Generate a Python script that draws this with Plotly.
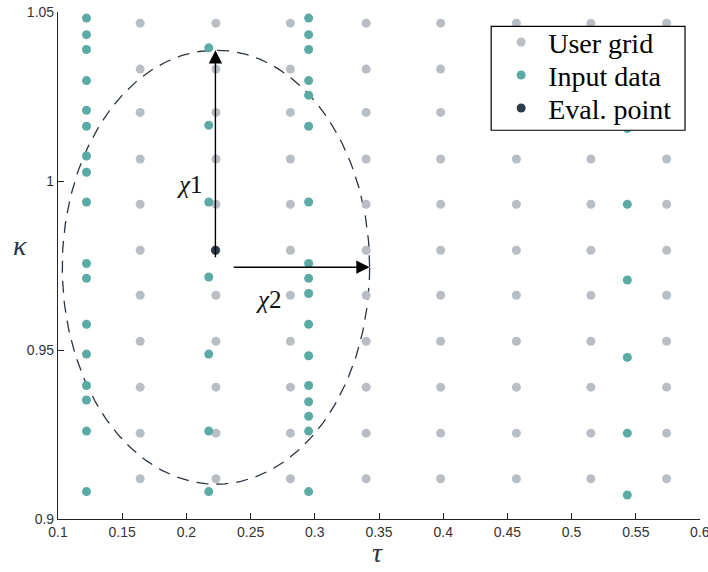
import numpy as np
import plotly.graph_objects as go

# ---- data ----
grid_tau = [0.164, 0.223, 0.281, 0.340, 0.398, 0.457, 0.515, 0.574]
grid_kappa = [0.9119, 0.9254, 0.9390, 0.9526, 0.9662, 0.9795,
              0.9931, 1.0065, 1.0203, 1.0331, 1.0467]

input_tau_cols = [0.1222, 0.2174, 0.2952, 0.5434]
input_kappa_c1 = [1.0482, 1.0433, 1.0389, 1.0297, 1.0209, 1.0162, 1.0074, 1.0026,
                  0.9938, 0.9756, 0.9712, 0.9576, 0.9488, 0.9395, 0.9352, 0.9260, 0.9081]
input_kappa_c2 = [1.0394, 1.0165, 0.9938, 0.9716, 0.9488, 0.9260, 0.9081]
input_kappa_c3 = [1.0482, 1.0433, 1.0389, 1.0297, 1.0254, 1.0162, 0.9938, 0.9756,
                  0.9712, 0.9667, 0.9576, 0.9483, 0.9395, 0.9347, 0.9304, 0.9260, 0.9081]
input_kappa_c4 = [1.0155, 0.9931, 0.9707, 0.9478, 0.9254, 0.9071]

eval_tau = [0.2226]
eval_kappa = [0.9795]

ellipse_center = (0.2230, 0.9745)
ellipse_radii = (0.1197, 0.0642)

legend_names = ["User grid", "Input data", "Eval. point"]

x_ticks = [0.1, 0.15, 0.2, 0.25, 0.3, 0.35, 0.4, 0.45, 0.5, 0.55, 0.6]
x_tick_text = ["0.1", "0.15", "0.2", "0.25", "0.3", "0.35", "0.4", "0.45", "0.5", "0.55", "0.6"]
y_ticks = [0.9, 0.95, 1.0, 1.05]
y_tick_text = ["0.9", "0.95", "1", "1.05"]

GRAY = "#b9bec4"
TEAL = "#5aaba6"
DARK = "#2d3b4b"
SERIF = "Liberation Serif"
SANS = "Liberation Sans"

gx = [t for t in grid_tau for k in grid_kappa]
gy = [k for t in grid_tau for k in grid_kappa]

ix, iy = [], []
for t, ks in zip(input_tau_cols, [input_kappa_c1, input_kappa_c2, input_kappa_c3, input_kappa_c4]):
    ix += [t] * len(ks)
    iy += ks

L, R, T, B = 57.5, 8, 11.7, 53
W, H = 708, 572
pw, ph = W - L - R, H - T - B

def px2paper(px, py):
    return (px - L) / pw, 1 - (py - T) / ph

fig = go.Figure()

# ellipse
th = np.linspace(0, 2 * np.pi, 300)
fig.add_trace(go.Scatter(
    x=ellipse_center[0] + ellipse_radii[0] * np.cos(th),
    y=ellipse_center[1] + ellipse_radii[1] * np.sin(th),
    mode="lines", line=dict(color="#2a3340", width=1.3, dash="12px,8px"),
    showlegend=False, hoverinfo="skip"))

fig.add_trace(go.Scatter(x=gx, y=gy, mode="markers", name=legend_names[0],
                         marker=dict(color=GRAY, size=9), legend="legend"))
fig.add_trace(go.Scatter(x=ix, y=iy, mode="markers", name=legend_names[1],
                         marker=dict(color=TEAL, size=9), legend="legend2"))
fig.add_trace(go.Scatter(x=eval_tau, y=eval_kappa, mode="markers", name=legend_names[2],
                         marker=dict(color=DARK, size=9), legend="legend3"))

cx, cy = ellipse_center
rx, ry = ellipse_radii
# vertical arrow (chi_1)
fig.add_annotation(x=cx - 0.0004, y=cy + ry, ax=cx - 0.0004, ay=cy + 0.0025,
                   xref="x", yref="y", axref="x", ayref="y", text="",
                   showarrow=True, arrowhead=2, arrowsize=1.9, arrowwidth=1.4,
                   arrowcolor="black")
# horizontal arrow (chi_2)
fig.add_annotation(x=cx + rx, y=cy, ax=cx + 0.0127, ay=cy,
                   xref="x", yref="y", axref="x", ayref="y", text="",
                   showarrow=True, arrowhead=2, arrowsize=1.9, arrowwidth=1.4,
                   arrowcolor="black")

fig.add_annotation(x=0.2030, y=0.9990, xref="x", yref="y", showarrow=False,
                   text="<i>χ</i>1", font=dict(family=SERIF, size=25, color="#111"))
fig.add_annotation(x=0.2645, y=0.9650, xref="x", yref="y", showarrow=False,
                   text="<i>χ</i>2", font=dict(family=SERIF, size=25, color="#111"))

# axis titles
kx, ky = px2paper(19, 245)
fig.add_annotation(x=kx, y=ky, xref="paper", yref="paper", showarrow=False,
                   xanchor="center", yanchor="middle",
                   text="<i>κ</i>", font=dict(family=SERIF, size=28, color="#2a3340"))
tx, ty = px2paper(377, 553)
fig.add_annotation(x=tx, y=ty, xref="paper", yref="paper", showarrow=False,
                   xanchor="center", yanchor="middle",
                   text="<i>τ</i>", font=dict(family=SERIF, size=28, color="#2a3340"))
# last x tick label (clipped by the page edge in the reference)
lx, ly = px2paper(700, 532)
fig.add_annotation(x=lx, y=ly, xref="paper", yref="paper", showarrow=False,
                   xanchor="center", yanchor="middle",
                   text=x_tick_text[-1], font=dict(family=SANS, size=14, color="#333"))

# legend frame
bx0, by0 = px2paper(491, 26)
bx1, by1 = px2paper(685, 130)
fig.add_shape(type="rect", xref="paper", yref="paper", x0=bx0, y0=by1, x1=bx1, y1=by0,
              line=dict(color="black", width=1.2), fillcolor="white", layer="above")

legend_common = dict(xanchor="left", yanchor="middle", bgcolor="rgba(0,0,0,0)",
                     borderwidth=0, font=dict(family=SERIF, size=28, color="black"),
                     itemsizing="trace", itemwidth=44)
legend_rows_px = [42, 75, 108]
legends = {}
for key, row in zip(["legend", "legend2", "legend3"], legend_rows_px):
    lx_, ly_ = px2paper(494, row)
    legends[key] = dict(x=lx_, y=ly_, **legend_common)

fig.update_layout(
    width=W, height=H,
    margin=dict(l=L, r=R, t=T, b=B, autoexpand=False),
    paper_bgcolor="white", plot_bgcolor="white",
    showlegend=True,
    **legends,
)
fig.update_xaxes(range=[0.1, 0.6], showgrid=False, zeroline=False,
                 showline=True, linecolor="#222", linewidth=1.2,
                 ticks="inside", ticklen=6, tickcolor="#222",
                 tickvals=x_ticks[:-1], ticktext=x_tick_text[:-1],
                 tickfont=dict(family=SANS, size=14, color="#333"))
fig.update_yaxes(range=[0.9, 1.05], showgrid=False, zeroline=False,
                 showline=True, linecolor="#222", linewidth=1.2,
                 ticks="inside", ticklen=6, tickcolor="#222",
                 tickvals=y_ticks, ticktext=y_tick_text,
                 tickfont=dict(family=SANS, size=14, color="#333"))

fig.write_html("out.html")
